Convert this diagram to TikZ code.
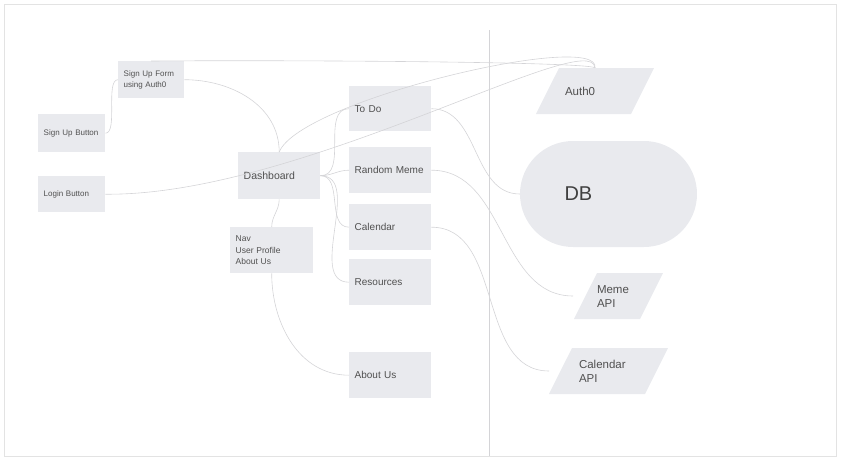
\documentclass[tikz,border=0pt]{standalone}
\usepackage{fontspec}
\setmainfont{Liberation Sans}
\usepackage{tikz}
\usetikzlibrary{shapes.geometric}

\definecolor{boxgray}{HTML}{E9EAEE}
\definecolor{textgray}{HTML}{505050}
\definecolor{linkgray}{HTML}{D4D4D7}
\definecolor{framegray}{HTML}{E3E3E3}

\begin{document}
\begin{tikzpicture}[x=1pt, y=1pt]
        % Setup the style for the boxes
        \tikzset{page box/.style={fill=boxgray,
                                  text=textgray,
                                  anchor=north west,
                                  inner xsep=5.5pt,
                                  inner ysep=0pt,
                                  align=left,
                                  font=\fontsize{10}{12}\selectfont},
                 small box/.style={page box,
                                   font=\fontsize{8}{11}\selectfont},
                 api box/.style={trapezium,
                                 trapezium left angle=63.4,
                                 trapezium right angle=116.6,
                                 fill=boxgray,
                                 text=textgray,
                                 inner xsep=0pt,
                                 align=left,
                                 text height=8.4pt,
                                 font=\fontsize{11.5}{14}\selectfont},
                 api one line/.style={api box, text depth=0pt, inner ysep=18.8pt},
                 api two lines/.style={api box, text depth=14pt, inner ysep=11.8pt},
                 link/.style={draw=linkgray, line width=0.6pt}}

        \useasboundingbox (0, 0) rectangle (841, -463);
        \draw[framegray, line width=1pt] (4, -4) rectangle (836, -456);
        \draw[linkgray, line width=0.8pt] (489, -30) -- (489, -456);

        % Draw the pages
        \node[small box, text width=56pt, minimum height=38pt] at (38, -114) (signupbtn) {Sign Up Button};
        \node[small box, text width=55pt, minimum height=37pt] at (118, -61) (signupform) {Sign Up Form\\using Auth0};
        \node[small box, text width=56pt, minimum height=36pt] at (38, -176) (loginbtn) {Login Button};
        \node[page box, text width=71pt, minimum height=47pt, font=\fontsize{10.5}{12}\selectfont] at (238, -152) (dashboard) {Dashboard};
        \node[small box, text width=72pt, minimum height=46pt, font=\fontsize{8.5}{11.5}\selectfont] at (230, -227) (nav) {Nav\\User Profile\\About Us};
        \node[page box, text width=71pt, minimum height=45pt] at (349, -86) (todo) {To Do};
        \node[page box, text width=71pt, minimum height=46pt] at (349, -147) (meme) {Random Meme};
        \node[page box, text width=71pt, minimum height=46pt] at (349, -204) (calendar) {Calendar};
        \node[page box, text width=71pt, minimum height=46pt] at (349, -259) (resources) {Resources};
        \node[page box, text width=71pt, minimum height=46pt] at (349, -352) (aboutus) {About Us};

        % Draw the services
        \node[api one line, text width=60pt, inner xsep=6pt] at (595, -91) (auth) {Auth0};
        \node[fill=boxgray, rounded corners=53pt, minimum width=177pt, minimum height=106pt,
              inner sep=0pt, text width=88pt, align=left, text=textgray!80!black,
              font=\fontsize{20}{24}\selectfont] at (608.5, -194) (db) {DB};
        \node[api two lines, text width=43pt] at (618.5, -296) (memeapi) {Meme\\API};
        \node[api two lines, text width=59pt, inner xsep=7pt] at (608.5, -371) (calapi) {Calendar\\API};

        % Connect the pages
        \draw[link]
            (signupbtn.east)  edge[out=0, in=180, looseness=0.6] (signupform.west)
            (signupform.east) edge[out=0, in=90]                 (dashboard.north)
            (dashboard.east)  edge[out=0, in=180]                (todo.west)
            (dashboard.east)  edge[out=0, in=180]                (meme.west)
            (dashboard.east)  edge[out=0, in=180]                (calendar.west)
            (dashboard.east)  edge[out=0, in=180]                (resources.west)
            (dashboard.south) edge[out=-90, in=90]               (nav.north)
            (nav.south)       edge[out=-90, in=180]              (aboutus.west)
            (todo.east)       edge[out=0, in=180]                (db.west)
            (meme.east)       edge[out=0, in=180]                ([xshift=-45.5pt]memeapi.center)
            (calendar.east)   edge[out=0, in=180]                ([xshift=-59.5pt]calapi.center);

        % Connect to Auth0
        \draw[link] (signupform.north) .. controls +(150, 1) and +(-9, 6) .. (auth.north);
        \draw[link] (dashboard.north) .. controls +(21, 52) and +(6, 38) .. (auth.north);
        \draw[link] (loginbtn.east) .. controls +(195, -2) and +(-4, 43) .. (auth.north);
\end{tikzpicture}
\end{document}
